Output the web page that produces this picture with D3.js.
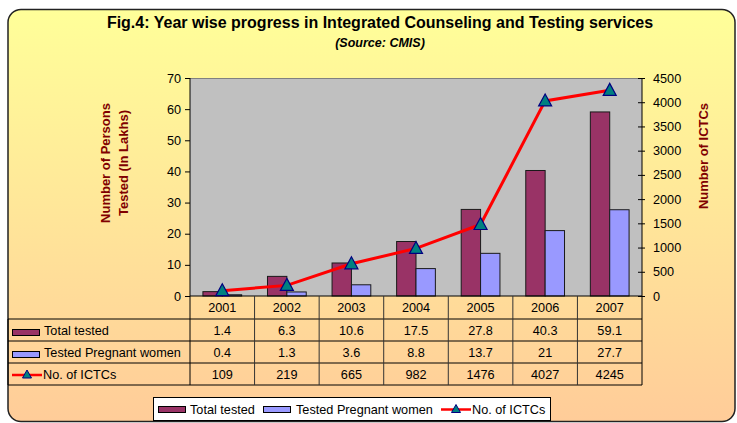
<!DOCTYPE html>
<html>
<head>
<meta charset="utf-8">
<script src="https://cdn.jsdelivr.net/npm/d3@7"></script>
<style>
  body { margin: 0; background: #fff; }
  text { font-family: "Liberation Sans", Arial, sans-serif; }
</style>
</head>
<body>
<div id="chart"></div>
<script>
// chart data
var years = ["2001", "2002", "2003", "2004", "2005", "2006", "2007"]
var totalTested = [1.4, 6.3, 10.6, 17.5, 27.8, 40.3, 59.1]
var pregnantWomen = [0.4, 1.3, 3.6, 8.8, 13.7, 21, 27.7]
var ictcs = [109, 219, 665, 982, 1476, 4027, 4245]
var leftTicks = [0, 10, 20, 30, 40, 50, 60, 70]
var rightTicks = [0, 500, 1000, 1500, 2000, 2500, 3000, 3500, 4000, 4500]
var seriesNames = ["Total tested", "Tested Pregnant women", "No. of ICTCs"]

var W = 737, H = 423
var plot = {left: 190, right: 642, top: 78, bottom: 296}
var rowTop = 319, rowH = 22
var fs = 12.7  // small text size

var svg = d3.select("#chart").append("svg")
  .attr("width", W).attr("height", H)

// background gradient
var grad = svg.append("defs").append("linearGradient")
  .attr("id", "bg").attr("x1", 0).attr("y1", 0).attr("x2", 0).attr("y2", 1)
grad.append("stop").attr("offset", "0%").attr("stop-color", "#FFFF99")
grad.append("stop").attr("offset", "100%").attr("stop-color", "#FFCC99")

svg.append("rect")
  .attr("x", 8).attr("y", 9.5).attr("width", 727).attr("height", 412)
  .attr("rx", 13).attr("ry", 13)
  .attr("fill", "url(#bg)").attr("stroke", "#222").attr("stroke-width", 1.5)

// titles
svg.append("text").attr("x", 380).attr("y", 28).attr("text-anchor", "middle")
  .attr("font-size", 16).attr("font-weight", "bold")
  .text("Fig.4: Year wise progress in Integrated Counseling and Testing services")
svg.append("text").attr("x", 380).attr("y", 47).attr("text-anchor", "middle")
  .attr("font-size", 12.5).attr("font-weight", "bold").attr("font-style", "italic")
  .text("(Source: CMIS)")

// scales
var x = d3.scaleBand().domain(years).range([plot.left, plot.right]).padding(0)
var y = d3.scaleLinear().domain([0, 70]).range([plot.bottom, plot.top])
var y2 = d3.scaleLinear().domain([0, 4500]).range([plot.bottom, plot.top])
var barW = x.bandwidth() * 0.3

// plot area
svg.append("rect")
  .attr("x", plot.left).attr("y", plot.top)
  .attr("width", plot.right - plot.left).attr("height", plot.bottom - plot.top)
  .attr("fill", "#C0C0C0")
svg.append("line").attr("x1", plot.left).attr("x2", plot.right)
  .attr("y1", plot.top + 0.5).attr("y2", plot.top + 0.5)
  .attr("stroke", "#808080").attr("stroke-width", 1)

// bars
svg.selectAll(".bar1").data(totalTested).enter().append("rect")
  .attr("x", function(d, i) { return x(years[i]) + x.bandwidth() / 2 - barW })
  .attr("y", function(d) { return y(d) })
  .attr("width", barW)
  .attr("height", function(d) { return plot.bottom - y(d) })
  .attr("fill", "#993366").attr("stroke", "#1a1a1a").attr("stroke-width", 1)
svg.selectAll(".bar2").data(pregnantWomen).enter().append("rect")
  .attr("x", function(d, i) { return x(years[i]) + x.bandwidth() / 2 })
  .attr("y", function(d) { return y(d) })
  .attr("width", barW)
  .attr("height", function(d) { return plot.bottom - y(d) })
  .attr("fill", "#9999FF").attr("stroke", "#1a1a1a").attr("stroke-width", 1)

// axes
var leftAxis = d3.axisLeft(y).tickValues(leftTicks).tickSize(5).tickPadding(4)
var gl = svg.append("g").attr("transform", "translate(" + plot.left + ",0)").call(leftAxis)
gl.select(".domain").remove()
gl.selectAll("text").attr("font-size", fs).attr("fill", "#000")
  .style("font-family", "'Liberation Sans', Arial, sans-serif")
gl.selectAll("line").attr("stroke", "#000")

var rightAxis = d3.axisRight(y2).tickValues(rightTicks).tickFormat(d3.format("d"))
  .tickSize(3).tickPadding(8)
var gr = svg.append("g").attr("transform", "translate(" + plot.right + ",0)").call(rightAxis)
gr.select(".domain").remove()
gr.selectAll("line").attr("stroke", "#000").attr("x1", -4)
gr.selectAll("text").attr("font-size", fs).attr("fill", "#000")
  .style("font-family", "'Liberation Sans', Arial, sans-serif")

svg.append("line").attr("x1", plot.left).attr("x2", plot.left)
  .attr("y1", plot.top).attr("y2", rowTop + rowH * 3)
  .attr("stroke", "#000")
svg.append("line").attr("x1", plot.right).attr("x2", plot.right)
  .attr("y1", plot.top).attr("y2", rowTop + rowH * 3)
  .attr("stroke", "#000")
svg.append("line").attr("x1", plot.left).attr("x2", plot.right)
  .attr("y1", plot.bottom).attr("y2", plot.bottom).attr("stroke", "#000")

// axis titles
svg.append("text")
  .attr("transform", "translate(110,163) rotate(-90)")
  .attr("text-anchor", "middle").attr("font-size", 13).attr("font-weight", "bold")
  .attr("fill", "#800000").text("Number of Persons")
svg.append("text")
  .attr("transform", "translate(128,163) rotate(-90)")
  .attr("text-anchor", "middle").attr("font-size", 13).attr("font-weight", "bold")
  .attr("fill", "#800000").text("Tested (In Lakhs)")
svg.append("text")
  .attr("transform", "translate(708,156) rotate(-90)")
  .attr("text-anchor", "middle").attr("font-size", 13).attr("font-weight", "bold")
  .attr("fill", "#800000").text("Number of ICTCs")

// line + markers
var line = d3.line()
  .x(function(d, i) { return x(years[i]) + x.bandwidth() / 2 })
  .y(function(d) { return y2(d) })
svg.append("path").datum(ictcs)
  .attr("fill", "none").attr("stroke", "#FF0000").attr("stroke-width", 3)
  .attr("d", line)

function triangle(g, cx, cy) {
  g.append("path")
    .attr("d", "M" + cx + "," + (cy - 7) + "L" + (cx + 6.5) + "," + (cy + 5) + "L" + (cx - 6.5) + "," + (cy + 5) + "Z")
    .attr("fill", "#008080").attr("stroke", "#000080").attr("stroke-width", 1.2)
}
ictcs.forEach(function(d, i) {
  triangle(svg, x(years[i]) + x.bandwidth() / 2, y2(d))
})

// data table
var tbl = svg.append("g")
for (var r = 0; r <= 3; r++) {
  tbl.append("line").attr("x1", 8).attr("x2", plot.right)
    .attr("y1", rowTop + r * rowH).attr("y2", rowTop + r * rowH)
    .attr("stroke", "#000")
}
tbl.append("line").attr("x1", 8).attr("x2", 8)
  .attr("y1", rowTop).attr("y2", rowTop + 3 * rowH).attr("stroke", "#000")
years.forEach(function(yr, i) {
  if (i > 0) {
    tbl.append("line").attr("x1", x(yr)).attr("x2", x(yr))
      .attr("y1", plot.bottom).attr("y2", rowTop + 3 * rowH)
      .attr("stroke", "#333")
  }
  var cx = x(yr) + x.bandwidth() / 2
  tbl.append("text").attr("x", cx).attr("y", 312).attr("text-anchor", "middle")
    .attr("font-size", fs).text(yr)
  var vals = [totalTested[i], pregnantWomen[i], ictcs[i]]
  vals.forEach(function(v, r) {
    tbl.append("text").attr("x", cx).attr("y", rowTop + r * rowH + 15.5)
      .attr("text-anchor", "middle").attr("font-size", fs).text(v)
  })
})

function barKey(g, kx, ky, color) {
  g.append("rect").attr("x", kx).attr("y", ky).attr("width", 27).attr("height", 6)
    .attr("fill", color).attr("stroke", "#000").attr("stroke-width", 1)
}
function lineKey(g, kx, ky) {
  g.append("line").attr("x1", kx).attr("x2", kx + 30).attr("y1", ky).attr("y2", ky)
    .attr("stroke", "#FF0000").attr("stroke-width", 2.5)
  g.append("path")
    .attr("d", "M" + (kx + 15) + "," + (ky - 5) + "L" + (kx + 19.5) + "," + (ky + 3) + "L" + (kx + 10.5) + "," + (ky + 3) + "Z")
    .attr("fill", "#008080").attr("stroke", "#000080").attr("stroke-width", 1)
}
barKey(tbl, 12.5, rowTop + 10.5, "#993366")
barKey(tbl, 12.5, rowTop + rowH + 10.5, "#9999FF")
lineKey(tbl, 12, rowTop + 2 * rowH + 12)
seriesNames.forEach(function(n, r) {
  tbl.append("text").attr("x", r == 2 ? 43 : 44).attr("y", rowTop + r * rowH + 15.5)
    .attr("font-size", fs).text(n)
})

// legend
var lg = svg.append("g")
lg.append("rect").attr("x", 153.5).attr("y", 397.5).attr("width", 397).attr("height", 23)
  .attr("fill", "#fff").attr("stroke", "#000")
barKey(lg, 158.5, 406.5, "#993366")
lg.append("text").attr("x", 190).attr("y", 413.5).attr("font-size", fs).text(seriesNames[0])
barKey(lg, 263.5, 406.5, "#9999FF")
lg.append("text").attr("x", 296).attr("y", 413.5).attr("font-size", fs).text(seriesNames[1])
lineKey(lg, 441, 409.5)
lg.append("text").attr("x", 472).attr("y", 413.5).attr("font-size", fs).text(seriesNames[2])
</script>
</body>
</html>
